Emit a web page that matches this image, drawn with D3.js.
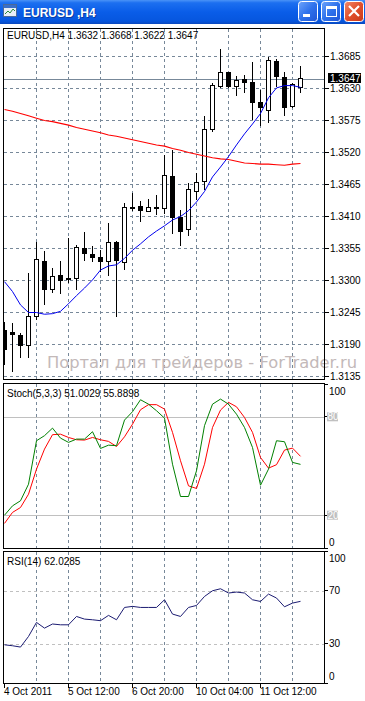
<!DOCTYPE html>
<html>
<head>
<meta charset="utf-8">
<script src="https://cdn.jsdelivr.net/npm/d3@7"></script>
<style>
html, body { margin: 0; padding: 0; background: #fff; overflow: hidden; }
svg { display: block; font-family: "Liberation Sans", Arial, sans-serif; }
</style>
</head>
<body>
<svg id="chart" width="365" height="701"></svg>
<script>
// data
const opens  = [1.3215, 1.3212, 1.3207, 1.3188, 1.3238, 1.3334, 1.3284, 1.3310, 1.3302, 1.3304,
                1.3356, 1.3346, 1.3340, 1.3333, 1.3366, 1.3331, 1.3424, 1.3428, 1.3419, 1.3426,
                1.3423, 1.3480, 1.3410, 1.3387, 1.3453, 1.3471, 1.3559, 1.3633, 1.3658, 1.3633,
                1.3646, 1.3642, 1.3606, 1.3593, 1.3678, 1.3650, 1.3599, 1.3632];
const highs  = [1.3229, 1.3227, 1.3210, 1.3313, 1.3367, 1.3350, 1.3322, 1.3333, 1.3373, 1.3361,
                1.3383, 1.3359, 1.3353, 1.3398, 1.3368, 1.3434, 1.3451, 1.3436, 1.3440, 1.3447,
                1.3516, 1.3525, 1.3422, 1.3467, 1.3485, 1.3582, 1.3640, 1.3698, 1.3659, 1.3652,
                1.3654, 1.3675, 1.3628, 1.3685, 1.3681, 1.3658, 1.3640, 1.3668];
const lows   = [1.3155, 1.3142, 1.3167, 1.3167, 1.3232, 1.3258, 1.3279, 1.3277, 1.3296, 1.3284,
                1.3333, 1.3331, 1.3315, 1.3308, 1.3238, 1.3318, 1.3419, 1.3401, 1.3419, 1.3412,
                1.3415, 1.3380, 1.3359, 1.3376, 1.3439, 1.3456, 1.3556, 1.3631, 1.3631, 1.3617,
                1.3622, 1.3576, 1.3565, 1.3570, 1.3633, 1.3582, 1.3597, 1.3622];
const closes = [1.3181, 1.3206, 1.3187, 1.3238, 1.3336, 1.3283, 1.3307, 1.3300, 1.3304, 1.3356,
                1.3345, 1.3338, 1.3331, 1.3366, 1.3333, 1.3426, 1.3425, 1.3420, 1.3426, 1.3423,
                1.3481, 1.3407, 1.3384, 1.3456, 1.3468, 1.3559, 1.3635, 1.3658, 1.3633, 1.3644,
                1.3639, 1.3605, 1.3596, 1.3678, 1.3650, 1.3597, 1.3637, 1.3647];
const maFast = [1.3298, 1.3281, 1.3258, 1.3245, 1.3245, 1.3242, 1.3243, 1.3247, 1.3260, 1.3274,
                1.3287, 1.3301, 1.3318, 1.3325, 1.3327, 1.3338, 1.3352, 1.3363, 1.3375, 1.3385,
                1.3394, 1.3404, 1.3410, 1.3420, 1.3435, 1.3453, 1.3478, 1.3495, 1.3513, 1.3533,
                1.3552, 1.3569, 1.3587, 1.3614, 1.3631, 1.3635, 1.3635, 1.3632];
const maSlow = [1.3594, 1.3591, 1.3587, 1.3583, 1.3579, 1.3575, 1.3573, 1.3570, 1.3567, 1.3563,
                1.3560, 1.3557, 1.3554, 1.3550, 1.3548, 1.3545, 1.3542, 1.3539, 1.3536, 1.3533,
                1.3531, 1.3527, 1.3524, 1.3520, 1.3517, 1.3514, 1.3511, 1.3509, 1.3508, 1.3505,
                1.3502, 1.3501, 1.3500, 1.3500, 1.3499, 1.3498, 1.3500, 1.3501];
const stochMain = [20, 25.7, 28.8, 38.9, 65.4, 68.5, 73.1, 67, 64.4, 66.4,
                   66.4, 70.9, 60.7, 62.7, 62.4, 78, 83.1, 90.4, 87.7, 83.7,
                   79.2, 51.1, 31.4, 31.4, 47.1, 74.6, 87.7, 90.8, 87.7, 81.6,
                   73.5, 61.3, 38.3, 48.1, 65.4, 64.8, 52.2, 51.0];
const stochSignal = [15, 21.7, 24.7, 32.8, 48.1, 60.3, 69.1, 69.4, 67.4, 66,
                     65.8, 67.4, 66, 65, 61.9, 67.8, 75.5, 84.3, 87.4, 87.4,
                     84.7, 70.5, 53.2, 37.9, 36.3, 51.1, 73.5, 84.1, 88.8, 86.1,
                     79.6, 70.5, 55.2, 48.7, 50.8, 59.7, 60.9, 55.9];
const rsi = [29.2, 28.5, 27.5, 35.5, 46.1, 41.8, 44.9, 44.3, 44.3, 50.6,
             48.6, 48.1, 47.4, 51.4, 48.1, 57.4, 58.2, 57.4, 57.4, 57.4,
             63.2, 52.4, 50.6, 57.4, 58.9, 65.7, 70, 71.5, 68.3, 69,
             68.3, 63.2, 61.9, 67.5, 64.5, 57.9, 60.7, 62.0];
const priceTicks = [1.3685, 1.3630, 1.3575, 1.3520, 1.3465, 1.3410, 1.3355, 1.3300, 1.3245, 1.3190, 1.3135];
const lastPrice = 1.3647;
const gridBars = [4, 8, 12, 16, 20, 24, 28, 32, 36];
const timeLabels = ['4 Oct 2011', '5 Oct 12:00', '6 Oct 20:00', '10 Oct 04:00', '11 Oct 12:00'];
const timeLabelBars = [0, 8, 16, 24, 32];
const stochLevels = [80, 20];
const rsiLevels = [70, 30];

const svg = d3.select('#chart');
const barIdx = d3.range(opens.length);

const PL = 3.5, PR = 324.5;
const MAIN = [28.5, 379.5], STO = [383.5, 548.5], RSI = [551.5, 683.5];
const gridColor = '#778899';

// scales
const x = d3.scaleLinear().domain([0, 37]).range([4.5, 300.5]);
const yPrice = d3.scaleLinear().domain([1.3135, 1.3685]).range([376.5, 56.5]);
const ySto = d3.scaleLinear().domain([0, 100]).range([548, 384]);
const yRsi = d3.scaleLinear().domain([0, 100]).range([683.5, 551]);

svg.append('rect').attr('width', 365).attr('height', 701).attr('fill', '#fff');

const defs = svg.append('defs');
[['clipMain', MAIN], ['clipSto', STO], ['clipRsi', RSI]].forEach(([id, r]) => {
  defs.append('clipPath').attr('id', id).append('rect')
    .attr('x', PL).attr('y', r[0]).attr('width', PR - PL).attr('height', r[1] - r[0]);
});

// title bar
const tb = defs.append('linearGradient').attr('id', 'tbar').attr('x1', 0).attr('x2', 0).attr('y1', 0).attr('y2', 1);
[[0, '#4a93f7'], [0.12, '#1c6ff0'], [0.5, '#0a5de8'], [0.88, '#0656de'], [1, '#0a48bf']]
  .forEach(d => tb.append('stop').attr('offset', d[0]).attr('stop-color', d[1]));
const bb = defs.append('linearGradient').attr('id', 'btn').attr('x1', 0).attr('x2', 1).attr('y1', 0).attr('y2', 1);
[[0, '#6ea4fb'], [0.5, '#2f72ec'], [1, '#1f55d6']]
  .forEach(d => bb.append('stop').attr('offset', d[0]).attr('stop-color', d[1]));
const cb = defs.append('linearGradient').attr('id', 'btnClose').attr('x1', 0).attr('x2', 1).attr('y1', 0).attr('y2', 1);
[[0, '#f08a6c'], [0.5, '#e1502c'], [1, '#c8391a']]
  .forEach(d => cb.append('stop').attr('offset', d[0]).attr('stop-color', d[1]));

svg.append('rect').attr('x', 0).attr('y', 0).attr('width', 365).attr('height', 24).attr('fill', 'url(#tbar)');

// icon
const icon = svg.append('g').attr('shape-rendering', 'crispEdges');
icon.append('rect').attr('x', 3.5).attr('y', 4.5).attr('width', 13).attr('height', 12).attr('fill', '#e8eef8').attr('stroke', '#4a6a9a');
icon.append('rect').attr('x', 4).attr('y', 5).attr('width', 12).attr('height', 3).attr('fill', '#3a6fc8');
icon.append('path').attr('d', 'M5,14 L8,11 L10,13 L13,9 L15,11').attr('fill', 'none').attr('stroke', '#2a8a3a').attr('shape-rendering', 'auto');

svg.append('text').attr('x', 23).attr('y', 17).text('EURUSD ,H4')
  .attr('fill', '#0a2a7a').attr('font-weight', 'bold').attr('font-size', 12).attr('opacity', 0.6)
  .attr('transform', 'translate(1,1)');
svg.append('text').attr('x', 23).attr('y', 17).text('EURUSD ,H4')
  .attr('fill', '#fff').attr('font-weight', 'bold').attr('font-size', 12);

const btns = [[298.5, 'url(#btn)'], [321.5, 'url(#btn)'], [344.5, 'url(#btnClose)']];
svg.selectAll('rect.btn').data(btns).join('rect').attr('class', 'btn')
  .attr('x', d => d[0]).attr('y', 1.5).attr('width', 19).attr('height', 20).attr('rx', 3)
  .attr('fill', d => d[1]).attr('stroke', '#fff');
svg.append('rect').attr('x', 303).attr('y', 14).attr('width', 7).attr('height', 3).attr('fill', '#fff');
svg.append('rect').attr('x', 326.5).attr('y', 6.5).attr('width', 10).attr('height', 10)
  .attr('fill', 'none').attr('stroke', '#fff').attr('shape-rendering', 'crispEdges');
svg.append('rect').attr('x', 326).attr('y', 6).attr('width', 11).attr('height', 3).attr('fill', '#fff');
svg.append('path').attr('d', 'M349,6 L359,16 M359,6 L349,16').attr('stroke', '#fff').attr('stroke-width', 2.2);

// vertical grid in each panel
[MAIN, STO, RSI].forEach(r => {
  svg.append('g').attr('shape-rendering', 'crispEdges')
    .selectAll('line').data(gridBars).join('line')
    .attr('x1', d => x(d)).attr('x2', d => x(d))
    .attr('y1', r[0]).attr('y2', r[1])
    .attr('stroke', gridColor).attr('stroke-dasharray', '3,3');
});

// main panel
const main = svg.append('g').attr('clip-path', 'url(#clipMain)');
main.append('g').attr('shape-rendering', 'crispEdges')
  .selectAll('line').data(priceTicks).join('line')
  .attr('x1', PL).attr('x2', PR)
  .attr('y1', d => yPrice(d)).attr('y2', d => yPrice(d))
  .attr('stroke', gridColor).attr('stroke-dasharray', '3,3');

main.append('line').attr('shape-rendering', 'crispEdges')
  .attr('x1', PL).attr('x2', PR)
  .attr('y1', Math.round(yPrice(lastPrice)) + 0.5).attr('y2', Math.round(yPrice(lastPrice)) + 0.5)
  .attr('stroke', gridColor);

// watermark
svg.append('text').attr('x', 47).attr('y', 368)
  .attr('font-family', '"DejaVu Sans", Verdana, sans-serif').attr('font-size', 15.5)
  .attr('textLength', 310).attr('lengthAdjust', 'spacingAndGlyphs')
  .attr('fill', '#c3b9b9').text('Портал для трейдеров - ForTrader.ru');

// candles
const candles = main.append('g').attr('shape-rendering', 'crispEdges');
candles.selectAll('line').data(barIdx).join('line')
  .attr('x1', i => x(i)).attr('x2', i => x(i))
  .attr('y1', i => yPrice(highs[i])).attr('y2', i => yPrice(lows[i]))
  .attr('stroke', '#000');
candles.selectAll('rect').data(barIdx).join('rect')
  .attr('x', i => closes[i] >= opens[i] ? x(i) - 2 : x(i) - 2.5)
  .attr('width', i => closes[i] >= opens[i] ? 4 : 5)
  .attr('y', i => yPrice(Math.max(opens[i], closes[i])))
  .attr('height', i => Math.max(1, Math.abs(yPrice(opens[i]) - yPrice(closes[i]))))
  .attr('fill', i => closes[i] >= opens[i] ? '#fff' : '#000')
  .attr('stroke', i => closes[i] >= opens[i] ? '#000' : 'none');

// moving averages
const priceLine = d3.line().x((d, i) => x(i)).y(d => yPrice(d));
main.append('path').attr('d', priceLine(maSlow)).attr('fill', 'none').attr('stroke', '#ff0000').attr('stroke-width', 1.1);
main.append('path').attr('d', priceLine(maFast)).attr('fill', 'none').attr('stroke', '#0000ee');

// stochastic panel
const sto = svg.append('g').attr('clip-path', 'url(#clipSto)');
sto.append('g').attr('shape-rendering', 'crispEdges')
  .selectAll('line').data(stochLevels).join('line')
  .attr('x1', PL).attr('x2', PR)
  .attr('y1', d => Math.round(ySto(d)) + 0.5).attr('y2', d => Math.round(ySto(d)) + 0.5)
  .attr('stroke', '#c0c0c0');
const stoLine = d3.line().x((d, i) => x(i)).y(d => ySto(d));
sto.append('path').attr('d', stoLine(stochSignal)).attr('fill', 'none').attr('stroke', '#ff0000');
sto.append('path').attr('d', stoLine(stochMain)).attr('fill', 'none').attr('stroke', '#008000');

// rsi panel
const rsiG = svg.append('g').attr('clip-path', 'url(#clipRsi)');
rsiG.append('g').attr('shape-rendering', 'crispEdges')
  .selectAll('line').data(rsiLevels).join('line')
  .attr('x1', PL).attr('x2', PR)
  .attr('y1', d => Math.round(yRsi(d)) + 0.5).attr('y2', d => Math.round(yRsi(d)) + 0.5)
  .attr('stroke', '#c0c0c0').attr('stroke-dasharray', '3,3');
const rsiLine = d3.line().x((d, i) => x(i)).y(d => yRsi(d));
rsiG.append('path').attr('d', rsiLine(rsi)).attr('fill', 'none').attr('stroke', '#1c1c72');

// panel borders
[MAIN, STO, RSI].forEach(r => {
  svg.append('rect').attr('x', PL).attr('y', r[0]).attr('width', PR - PL).attr('height', r[1] - r[0])
    .attr('fill', 'none').attr('stroke', '#000').attr('shape-rendering', 'crispEdges');
});

// right axis: price
const axisG = svg.append('g').attr('font-size', 10).attr('fill', '#000');
axisG.selectAll('line.pt').data(priceTicks).join('line').attr('class', 'pt')
  .attr('x1', PR).attr('x2', PR + 4).attr('y1', d => yPrice(d)).attr('y2', d => yPrice(d))
  .attr('stroke', '#000').attr('shape-rendering', 'crispEdges');
axisG.selectAll('text.pt').data(priceTicks).join('text').attr('class', 'pt')
  .attr('x', 330).attr('y', d => yPrice(d)).attr('dy', '0.35em').text(d => d.toFixed(4));

const lp = Math.round(yPrice(lastPrice));
axisG.append('rect').attr('x', 328).attr('y', lp - 6).attr('width', 33).attr('height', 10).attr('fill', '#000');
axisG.append('text').attr('x', 330).attr('y', lp - 1).attr('dy', '0.35em').attr('fill', '#fff').text(lastPrice.toFixed(4));

// right axis: stochastic
const stoAxis = [[100, ySto(100) + 7], [0, ySto(0) - 6]];
axisG.selectAll('text.sa').data(stoAxis).join('text').attr('class', 'sa')
  .attr('x', 329).attr('y', d => d[1]).attr('dy', '0.35em').text(d => d[0]);
axisG.selectAll('line.sa').data([100, 80, 20, 0]).join('line').attr('class', 'sa')
  .attr('x1', PR).attr('x2', PR + 3).attr('y1', d => ySto(d)).attr('y2', d => ySto(d))
  .attr('stroke', '#000').attr('shape-rendering', 'crispEdges');
axisG.selectAll('rect.sl').data(stochLevels).join('rect').attr('class', 'sl')
  .attr('x', 327).attr('y', d => ySto(d) - 4.5).attr('width', 11).attr('height', 9).attr('fill', '#c0c0c0');
axisG.selectAll('text.sl').data(stochLevels).join('text').attr('class', 'sl')
  .attr('x', 327.5).attr('y', d => ySto(d)).attr('dy', '0.35em').attr('fill', '#fff').text(d => d);

// right axis: rsi
const rsiAxis = [[100, yRsi(100) + 7.5], [70, yRsi(70)], [30, yRsi(30)], [0, yRsi(0) - 7]];
axisG.selectAll('text.ra').data(rsiAxis).join('text').attr('class', 'ra')
  .attr('x', 329).attr('y', d => d[1]).attr('dy', '0.35em').text(d => d[0]);
axisG.selectAll('line.ra').data([100, 70, 30, 0]).join('line').attr('class', 'ra')
  .attr('x1', PR).attr('x2', PR + 3).attr('y1', d => yRsi(d)).attr('y2', d => yRsi(d))
  .attr('stroke', '#000').attr('shape-rendering', 'crispEdges');

// time axis
axisG.selectAll('line.ta').data(timeLabelBars).join('line').attr('class', 'ta')
  .attr('x1', d => x(d)).attr('x2', d => x(d)).attr('y1', RSI[1]).attr('y2', RSI[1] + 4)
  .attr('stroke', '#000').attr('shape-rendering', 'crispEdges');
axisG.selectAll('text.ta').data(timeLabels).join('text').attr('class', 'ta')
  .attr('x', (d, i) => x(timeLabelBars[i]) - 0.5).attr('y', 695).text(d => d);

// indicator headers
const hdr = svg.append('g').attr('font-size', 10).attr('fill', '#000');
hdr.append('text').attr('x', 7).attr('y', 39).text('EURUSD,H4  1.3632  1.3668  1.3622  1.3647');
hdr.append('text').attr('x', 7).attr('y', 397).text('Stoch(5,3,3) 51.0029 55.8898');
hdr.append('text').attr('x', 7).attr('y', 565).text('RSI(14) 62.0285');
</script>
</body>
</html>
